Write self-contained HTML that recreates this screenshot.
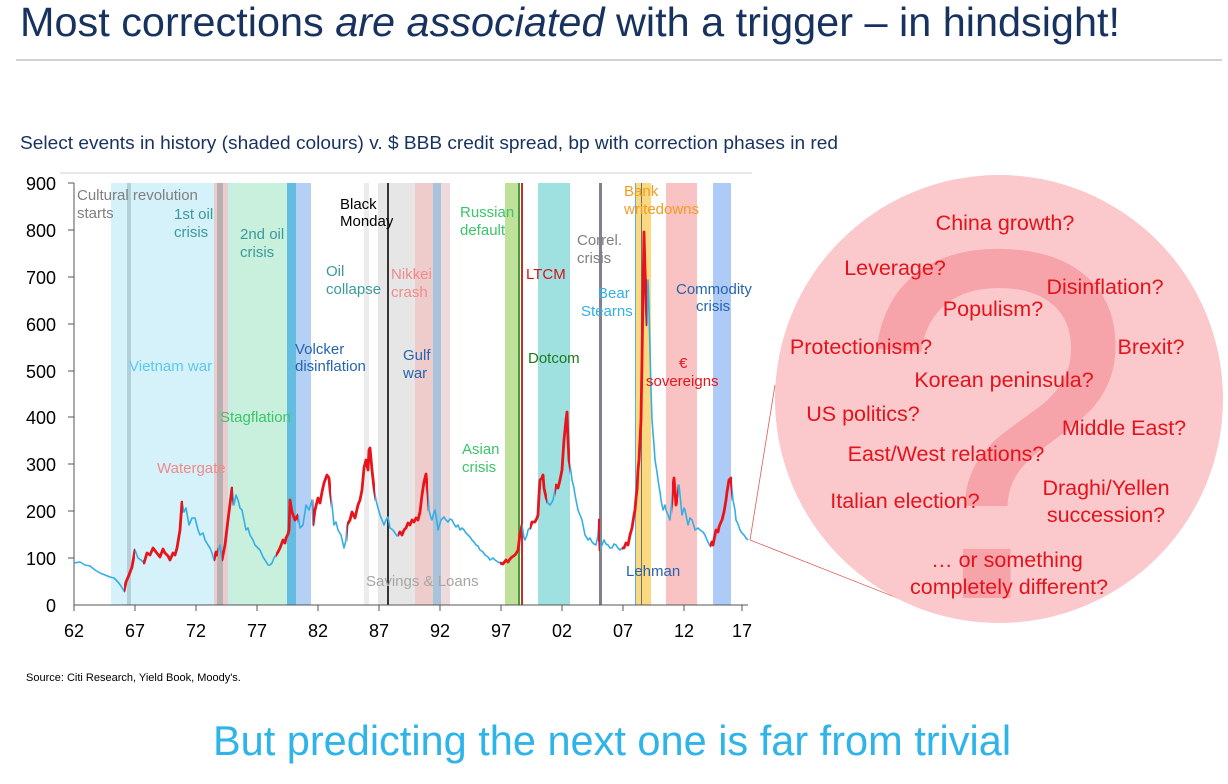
<!DOCTYPE html>
<html><head><meta charset="utf-8"><style>
html,body{margin:0;padding:0;background:#fff;}
body{width:1228px;height:784px;overflow:hidden;position:relative;font-family:"Liberation Sans",sans-serif;}
</style></head><body>
<svg width="1228" height="784" xmlns="http://www.w3.org/2000/svg" xmlns:xlink="http://www.w3.org/1999/xlink" style="position:absolute;left:0;top:0" font-family="Liberation Sans, sans-serif">
<text x="20" y="36" font-size="41" fill="#17325f" textLength="1100" lengthAdjust="spacingAndGlyphs">Most corrections <tspan font-style="italic">are associated</tspan> with a trigger – in hindsight!</text>
<line x1="16" y1="60" x2="1222" y2="60" stroke="#a6a6a6" stroke-width="1"/>
<text x="20" y="149" font-size="18" fill="#17325f" textLength="818" lengthAdjust="spacingAndGlyphs">Select events in history (shaded colours) v. $ BBB credit spread, bp with correction phases in red</text>
<line x1="60" y1="173" x2="752" y2="173" stroke="#d0d0d0"/>
<g>
<rect x="111" y="183" width="103" height="422" fill="#d5f1fa"/>
<rect x="127" y="183" width="4" height="422" fill="#b3cfd8"/>
<rect x="214" y="183" width="14" height="422" fill="#e9cdcd"/>
<rect x="217" y="183" width="6" height="422" fill="#b8b0b0"/>
<rect x="228" y="183" width="4" height="422" fill="#c6ede8"/>
<rect x="232" y="183" width="55" height="422" fill="#c8f0dc"/>
<rect x="287" y="183" width="9" height="422" fill="#63bde0"/>
<rect x="296" y="183" width="15" height="422" fill="#b5d0f5"/>
<rect x="364" y="183" width="5" height="422" fill="#ececec"/>
<rect x="378" y="183" width="37" height="422" fill="#e6e6e6"/>
<rect x="415" y="183" width="18" height="422" fill="#efcccc"/>
<rect x="433" y="183" width="8" height="422" fill="#a8c3dc"/>
<rect x="441" y="183" width="9" height="422" fill="#eedada"/>
<rect x="505" y="183" width="13" height="422" fill="#bfe19a"/>
<rect x="518" y="183" width="2" height="422" fill="#3f9f3f"/>
<rect x="521" y="183" width="2" height="422" fill="#cc2a2a"/>
<rect x="538" y="183" width="32" height="422" fill="#9fe0e0"/>
<rect x="599" y="183" width="3" height="422" fill="#80808e"/>
<rect x="635" y="183" width="16" height="422" fill="#fbd980"/>
<rect x="635" y="183" width="1" height="422" fill="#5ab0e6"/>
<rect x="641" y="183" width="1" height="422" fill="#707070"/>
<rect x="666" y="183" width="31" height="422" fill="#f9c3c3"/>
<rect x="713" y="183" width="18" height="422" fill="#aecbf7"/>
<rect x="387" y="183" width="2" height="422" fill="#333"/>
</g>
<g stroke="#555" stroke-width="1">
<line x1="74" y1="183" x2="74" y2="605"/>
<line x1="74" y1="605" x2="748" y2="605"/>
<line x1="68" y1="183" x2="74" y2="183"/><line x1="68" y1="230" x2="74" y2="230"/><line x1="68" y1="277" x2="74" y2="277"/><line x1="68" y1="324" x2="74" y2="324"/><line x1="68" y1="371" x2="74" y2="371"/><line x1="68" y1="417" x2="74" y2="417"/><line x1="68" y1="464" x2="74" y2="464"/><line x1="68" y1="511" x2="74" y2="511"/><line x1="68" y1="558" x2="74" y2="558"/>
<line x1="74" y1="605" x2="74" y2="611"/><line x1="135" y1="605" x2="135" y2="611"/><line x1="196" y1="605" x2="196" y2="611"/><line x1="257" y1="605" x2="257" y2="611"/><line x1="318" y1="605" x2="318" y2="611"/><line x1="379" y1="605" x2="379" y2="611"/><line x1="440" y1="605" x2="440" y2="611"/><line x1="501" y1="605" x2="501" y2="611"/><line x1="562" y1="605" x2="562" y2="611"/><line x1="623" y1="605" x2="623" y2="611"/><line x1="684" y1="605" x2="684" y2="611"/><line x1="742" y1="605" x2="742" y2="611"/>
</g>
<g font-size="18" fill="#000" text-anchor="end">
<text x="56" y="190">900</text><text x="56" y="237">800</text><text x="56" y="284">700</text><text x="56" y="331">600</text><text x="56" y="378">500</text><text x="56" y="424">400</text><text x="56" y="471">300</text><text x="56" y="518">200</text><text x="56" y="565">100</text><text x="56" y="612">0</text>
</g>
<g font-size="18" fill="#000" text-anchor="middle">
<text x="74" y="637">62</text><text x="135" y="637">67</text><text x="196" y="637">72</text><text x="257" y="637">77</text><text x="318" y="637">82</text><text x="379" y="637">87</text><text x="440" y="637">92</text><text x="501" y="637">97</text><text x="562" y="637">02</text><text x="623" y="637">07</text><text x="684" y="637">12</text><text x="742" y="637">17</text>
</g>
<defs>
<clipPath id="redc">
<rect x="124" y="180" width="11" height="430"/><rect x="143" y="180" width="40" height="430"/><rect x="214" y="180" width="4" height="430"/><rect x="222" y="180" width="11" height="430"/><rect x="276" y="180" width="22" height="430"/><rect x="313" y="180" width="18" height="430"/><rect x="347" y="180" width="28" height="430"/><rect x="398" y="180" width="30" height="430"/><rect x="500" y="180" width="22" height="430"/><rect x="530" y="180" width="17" height="430"/><rect x="555" y="180" width="15" height="430"/><rect x="598" y="180" width="2" height="430"/><rect x="622" y="180" width="25" height="430"/><rect x="672" y="180" width="6" height="430"/><rect x="710" y="180" width="22" height="430"/>
</clipPath>
<polyline id="ser" fill="none" stroke-linejoin="round" points="74,563 80,562 85,565 90,566 95,570 100,573 105,575 110,577 114,578 118,582 121,586 124,591 126,582 129,575 132,567 135,550 138,558 141,560 144,563 147,553 150,555 153,548 156,552 160,557 163,549 165,553 168,556 170,560 173,553 175,555 177,548 178,542 180,530 182,502 184,512 186,508 189,525 192,518 195,518 198,530 200,535 203,533 205,540 208,545 210,548 212,553 214,560 216,552 217,555 220,545 222,560 225,545 228,520 232,488 234,505 236,495 238,500 240,508 242,510 244,520 246,530 248,528 250,535 253,540 255,545 258,548 260,550 263,557 265,560 268,565 270,565 272,563 274,558 276,555 278,552 280,548 283,540 285,543 286,538 288,534 289,530 290,500 292,512 295,520 298,515 300,528 303,525 306,505 309,510 312,500 313,525 315,510 318,498 320,503 322,492 324,483 327,475 329,478 330,490 332,505 334,525 336,522 338,530 341,535 344,548 346,540 347,525 350,520 352,512 355,518 358,505 360,500 362,490 364,468 366,460 368,470 369,450 370,448 372,470 374,488 376,500 378,508 380,515 382,520 384,525 386,520 388,517 390,528 393,530 395,533 397,536 400,532 402,535 404,530 406,528 408,523 410,525 412,520 414,522 416,518 418,520 420,512 422,495 424,482 426,474 428,495 429,510 431,518 432,520 434,512 435,510 437,522 438,530 441,520 444,517 446,520 448,522 450,519 452,520 454,524 456,527 458,525 460,530 462,528 464,530 466,533 468,535 470,537 472,540 474,542 476,545 478,546 480,550 483,552 485,555 488,557 490,560 493,558 495,560 498,562 500,563 503,564 506,560 508,562 510,559 512,557 515,555 517,552 518,550 520,534 522,525 524,538 525,540 527,535 528,530 530,528 532,522 535,522 537,518 538,515 539,495 540,480 542,478 543,475 544,488 546,497 548,503 550,505 552,502 553,500 555,490 556,485 558,488 560,480 562,470 563,455 564,440 566,420 567,412 568,440 569,460 571,472 572,480 574,488 575,495 577,505 578,510 580,515 582,520 584,530 585,535 587,538 588,540 590,538 592,542 594,544 596,545 598,535 599,520 600,550 602,545 604,540 606,544 608,545 610,548 612,548 614,544 616,545 618,548 620,550 622,548 624,548 626,543 628,545 630,535 632,528 634,515 635,510 636,498 637,490 638,470 639,460 640,440 641,420 642,360 643,290 644,232 645,270 646,300 647,325 648,280 649,310 650,350 651,390 652,420 654,445 655,460 657,472 658,480 660,492 661,500 662,505 663,510 665,505 666,510 668,515 670,520 671,510 672,500 673,485 674,478 675,492 676,505 678,495 679,485 681,505 682,515 684,508 685,510 687,520 688,525 690,518 692,520 694,526 695,530 698,528 700,530 703,532 705,535 707,540 710,546 712,542 713,545 715,535 716,530 718,532 719,527 721,522 722,520 724,512 726,500 727,492 729,480 731,478 732,490 733,500 735,510 736,520 738,524 740,530 742,533 744,535 746,538 748,540"/>
</defs>
<g stroke="#35aee6" stroke-width="1.6" fill="none"><use href="#ser" xlink:href="#ser"/></g>
<g stroke="#e8141c" stroke-width="2.8" fill="none" clip-path="url(#redc)"><use href="#ser" xlink:href="#ser"/></g>
<g font-size="15">
<text x="77" y="200" fill="#7f7f7f">Cultural revolution</text><text x="77" y="218" fill="#7f7f7f">starts</text>
<text x="174" y="219" fill="#3a9a9a">1st oil</text><text x="174" y="237" fill="#3a9a9a">crisis</text>
<text x="240" y="239" fill="#3a9a9a">2nd oil</text><text x="240" y="257" fill="#3a9a9a">crisis</text>
<text x="129" y="371" fill="#5bc8f0">Vietnam war</text>
<text x="220" y="422" fill="#3cc46a">Stagflation</text>
<text x="157" y="473" fill="#f08a8a">Watergate</text>
<text x="295" y="354" fill="#2664b0">Volcker</text><text x="295" y="371" fill="#2664b0">disinflation</text>
<text x="340" y="209" fill="#000">Black</text><text x="340" y="226" fill="#000">Monday</text>
<text x="326" y="276" fill="#3a9a9a">Oil</text><text x="326" y="294" fill="#3a9a9a">collapse</text>
<text x="391" y="279" fill="#f08a8a">Nikkei</text><text x="391" y="297" fill="#f08a8a">crash</text>
<text x="403" y="360" fill="#2664b0">Gulf</text><text x="403" y="378" fill="#2664b0">war</text>
<text x="366" y="586" fill="#a6a6a6">Savings &amp; Loans</text>
<text x="460" y="217" fill="#3cc46a">Russian</text><text x="460" y="235" fill="#3cc46a">default</text>
<text x="462" y="454" fill="#3cc46a">Asian</text><text x="462" y="472" fill="#3cc46a">crisis</text>
<text x="526" y="279" fill="#d4141c">LTCM</text>
<text x="528" y="363" fill="#1a7a1a">Dotcom</text>
<text x="577" y="245" fill="#7f7f7f">Correl.</text><text x="577" y="263" fill="#7f7f7f">crisis</text>
<text x="624" y="196" fill="#f49b20">Bank</text><text x="624" y="214" fill="#f49b20">writedowns</text>
<text x="598" y="298" fill="#35aee6">Bear</text><text x="581" y="316" fill="#35aee6">Stearns</text>
<text x="626" y="576" fill="#2664b0">Lehman</text>
<text x="676" y="294" fill="#2664b0">Commodity</text><text x="696" y="311" fill="#2664b0">crisis</text>
<text x="679" y="368" fill="#e8141c">€</text><text x="646" y="386" fill="#e8141c">sovereigns</text>
</g>
<line x1="750" y1="540" x2="775" y2="385" stroke="#e05a5a" stroke-width="0.8"/>
<line x1="750" y1="540" x2="910" y2="603" stroke="#e05a5a" stroke-width="0.8"/>
<circle cx="999" cy="399" r="224" fill="#fbc8cb"/>
<text x="995" y="598" font-size="500" text-anchor="middle" fill="#f6a3aa">?</text>
<g font-size="21.5" fill="#e3141c" text-anchor="middle">
<text x="1005" y="230">China growth?</text>
<text x="895" y="275">Leverage?</text>
<text x="1105" y="294">Disinflation?</text>
<text x="993" y="316">Populism?</text>
<text x="861" y="354">Protectionism?</text>
<text x="1151" y="354">Brexit?</text>
<text x="1004" y="387">Korean peninsula?</text>
<text x="863" y="421">US politics?</text>
<text x="1124" y="435">Middle East?</text>
<text x="946" y="461">East/West relations?</text>
<text x="1106" y="495">Draghi/Yellen</text>
<text x="1106" y="522">succession?</text>
<text x="905" y="508">Italian election?</text>
<text x="1007" y="567">… or something</text>
<text x="1009" y="594">completely different?</text>
</g>
<text x="26" y="681" font-size="11" fill="#000">Source: Citi Research, Yield Book, Moody's.</text>
<text x="612" y="755" font-size="41.5" fill="#2eb4e8" text-anchor="middle">But predicting the next one is far from trivial</text>
</svg>
</body></html>
